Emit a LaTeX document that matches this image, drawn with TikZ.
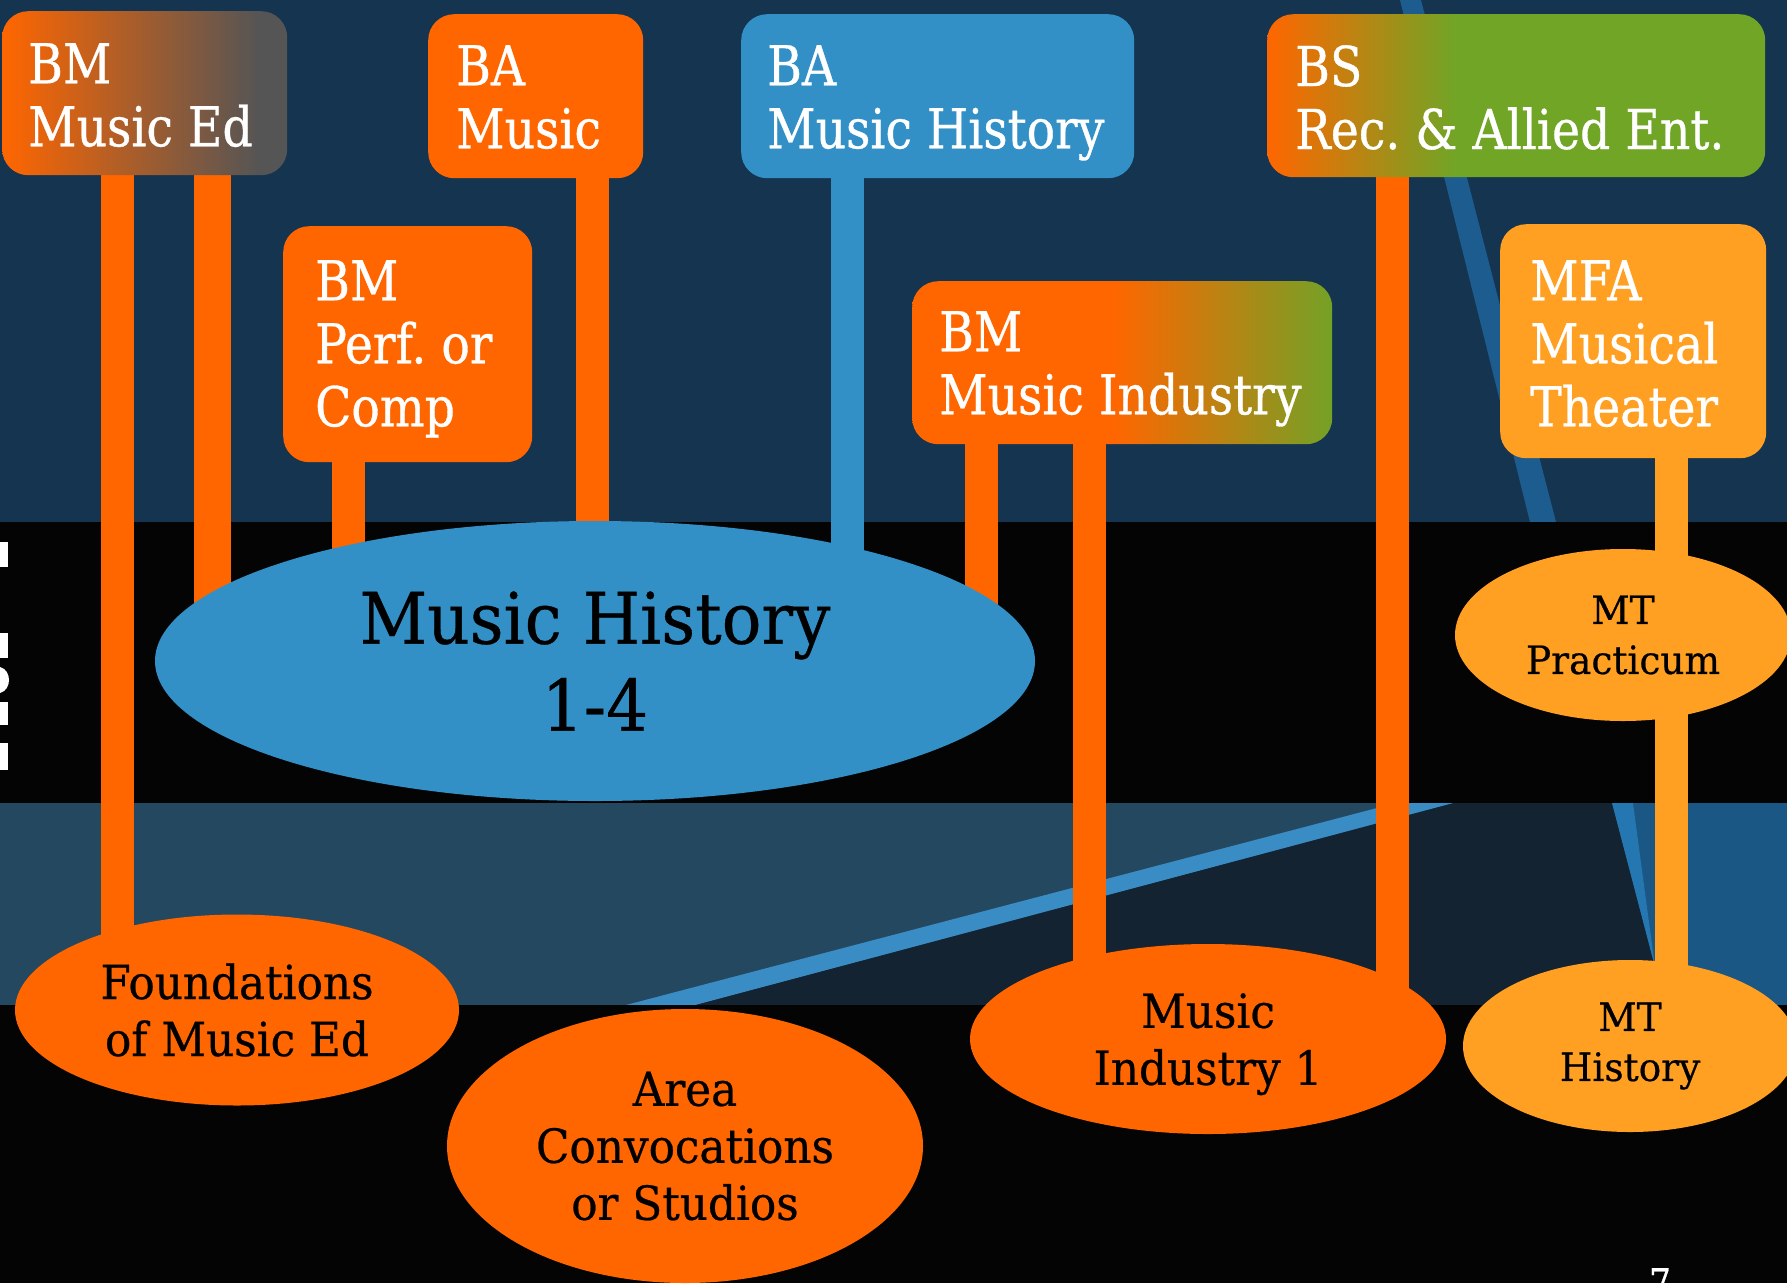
\documentclass[tikz,border=0pt]{standalone}
\usepackage{fontspec}
\setmainfont{DejaVu Serif}[FakeStretch=0.86, FakeBold=0.6]
\newfontfamily\ellfam{DejaVu Serif}[FakeStretch=0.93, FakeBold=0.5]
\newfontfamily\mtfam{DejaVu Serif}[FakeStretch=0.96, FakeBold=0.5]
\usetikzlibrary{shapes.geometric}
\pgfdeclarelayer{bg}
\pgfdeclarelayer{bars}
\pgfsetlayers{bg,bars,main}
\definecolor{orng}{HTML}{FF6600}
\definecolor{blu}{HTML}{3390C6}
\definecolor{lorng}{HTML}{FFA022}
\definecolor{grn}{HTML}{70A526}
\definecolor{grnb}{HTML}{74A126}
\definecolor{gry}{HTML}{555555}
\definecolor{topblue}{HTML}{15344F}
\definecolor{topstripe}{HTML}{1D5C8E}
\definecolor{lowlight}{HTML}{24485F}
\definecolor{lowdark}{HTML}{132331}
\definecolor{lowstripe}{HTML}{3A8CC5}
\definecolor{lowblue}{HTML}{1B5784}
\definecolor{wedge}{HTML}{2577B2}
\definecolor{nearblack}{HTML}{040404}
\pgfdeclarehorizontalshading{edshade}{100bp}{color(0bp)=(orng); color(25bp)=(orng); color(70bp)=(gry); color(100bp)=(gry)}
\pgfdeclarehorizontalshading{bsshade}{100bp}{color(0bp)=(orng); color(25bp)=(orng); color(44bp)=(grn); color(100bp)=(grn)}
\pgfdeclarehorizontalshading{indshade}{100bp}{color(0bp)=(orng); color(25bp)=(orng); color(49bp)=(orng); color(75bp)=(grnb); color(100bp)=(grnb)}
\tikzset{
  boxs/.style={rounded corners=26pt, inner sep=0pt, anchor=north west},
  btxt/.style={text=white, align=left, inner sep=0pt, anchor=north west, font={\fontsize{55}{63}\selectfont}},
  ell/.style={ellipse, inner sep=0pt, text=black, align=center},
  bigf/.style={font={\ellfam\fontsize{71}{87}\selectfont}},
  midf/.style={font={\ellfam\fontsize{47}{57}\selectfont}},
  mtf/.style={font={\mtfam\fontsize{39}{50}\selectfont}},
  bar/.style={line width=33pt}
}
\begin{document}
\begin{tikzpicture}[x=1pt,y=-1pt]
\useasboundingbox (0,0) rectangle (1787,1283);
\begin{pgfonlayer}{bg}
\fill[topblue] (0,0) rectangle (1787,522);
\fill[topstripe] (1400,0) -- (1421,0) -- (1556,522) -- (1530,522) -- cycle;
\fill[nearblack] (0,522) rectangle (1787,803);
\fill[lowlight] (0,803) rectangle (1787,1005);
\fill[lowdark] (695,1005) -- (1453,803) -- (1612,803) -- (1655,967) -- (1660,1005) -- cycle;
\fill[lowblue] (1633,803) -- (1787,803) -- (1787,1005) -- (1660,1005) -- cycle;
\fill[wedge] (1612,803) -- (1633,803) -- (1655,967) -- cycle;
\fill[lowstripe] (626,1005) -- (695,1005) -- (1453,803) -- (1396,803) -- cycle;
\fill[nearblack] (0,1005) rectangle (1787,1283);
% cut-off white fragments at the left edge
\fill[white] (0,542) rectangle (8,567);
\fill[white] (0,633) rectangle (8,658);
\fill[white] (0,667) .. controls (12,670) and (12,690) .. (0,693) -- cycle;
\fill[white] (0,702) rectangle (8,725);
\fill[white] (0,743) rectangle (8,770);
\end{pgfonlayer}

% degree boxes
\node[boxs, shading=edshade, minimum width=285pt, minimum height=164pt] (bmed) at (2,11) {};
\node[boxs, fill=orng, minimum width=215pt, minimum height=164pt] (bamus) at (428,14) {};
\node[boxs, fill=blu, minimum width=393pt, minimum height=164pt] (bahist) at (741,14) {};
\node[boxs, shading=bsshade, minimum width=498pt, minimum height=163pt] (bsrec) at (1267,14) {};
\node[boxs, fill=orng, minimum width=249pt, minimum height=236pt] (bmperf) at (283,226) {};
\node[boxs, shading=indshade, minimum width=420pt, minimum height=163pt] (bmind) at (912,281) {};
\node[boxs, fill=lorng, minimum width=266pt, minimum height=234pt] (mfa) at (1500,224) {};

\node[btxt] (bmedT) at (28,43) {BM\\Music Ed};
\node[btxt] (bamusT) at (456,45) {BA\\Music};
\node[btxt] (bahistT) at (767,45) {BA\\Music History};
\node[btxt] (bsrecT) at (1295,45) {BS\\Rec.\ \& Allied Ent.};
\node[btxt] (bmperfT) at (315,260) {BM\\Perf.\ or\\Comp};
\node[btxt] (bmindT) at (939,311) {BM\\Music Industry};
\node[btxt] (mfaT) at (1530,260) {MFA\\Musical\\Theater};

% course ellipses
\node[ell, bigf, fill=blu, minimum width=880pt, minimum height=280pt] (mh) at (595,661) {Music History\\1-4};
\node[ell, mtf, fill=lorng, minimum width=336pt, minimum height=172pt] (mtp) at (1623,635) {MT\\Practicum};
\node[ell, midf, fill=orng, minimum width=444pt, minimum height=191pt] (found) at (237,1010) {Foundations\\of Music Ed};
\node[ell, midf, fill=orng, minimum width=476pt, minimum height=274pt] (area) at (685,1146) {Area\\Convocations\\or Studios};
\node[ell, midf, fill=orng, minimum width=476pt, minimum height=190pt, text depth=0pt] (mi1) at (1208,1039) {Music\\Industry 1};
\node[ell, mtf, fill=lorng, minimum width=334pt, minimum height=172pt] (mth) at (1630,1046) {MT\\History};

\node[text=white, inner sep=0pt, anchor=north, font={\fontsize{40}{40}\selectfont}] (pg) at (1660,1268) {7};

% connectors
\begin{pgfonlayer}{bars}
\draw[bar, orng] (117,0 |- bmed.center) -- (117,0 |- found.center);
\draw[bar, orng, line width=37pt] (212,0 |- bmed.center) -- (212,0 |- mh.center);
\draw[bar, orng] (348,0 |- bmperf.center) -- (348,0 |- mh.center);
\draw[bar, orng] (592,0 |- bamus.center) -- (592,0 |- mh.center);
\draw[bar, blu] (847,0 |- bahist.center) -- (847,0 |- mh.center);
\draw[bar, orng] (981,0 |- bmind.center) -- (981,0 |- mh.center);
\draw[bar, orng] (1089,0 |- bmind.center) -- (1089,0 |- mi1.center);
\draw[bar, orng] (1392,0 |- bsrec.center) -- (1392,0 |- mi1.center);
\draw[bar, lorng] (1671,0 |- mfa.center) -- (1671,0 |- mtp.center);
\draw[bar, lorng] (1671,0 |- mtp.center) -- (1671,0 |- mth.center);
\end{pgfonlayer}
\end{tikzpicture}
\end{document}
